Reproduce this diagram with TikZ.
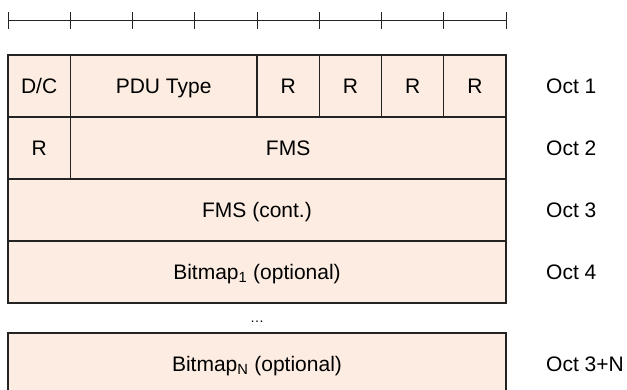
\documentclass[tikz,border=0pt]{standalone}
\usepackage{fontspec}
\setmainfont{Liberation Sans}
\usetikzlibrary{positioning,calc}
\definecolor{fieldfill}{RGB}{252,236,225}
\definecolor{fieldline}{RGB}{35,35,35}

\begin{document}
\begin{tikzpicture}[x=1pt,y=-1pt,
        font=\fontsize{21}{24}\selectfont,
        field/.style={draw=fieldline,fill=fieldfill,line width=1.3pt,
          rectangle,minimum height=62pt,inner sep=0pt,outer sep=0pt,
          text height=15pt,text depth=0pt},
        bit/.style={field,minimum width=62.25pt},
        octet/.style={field,minimum width=498pt},
        octlabel/.style={inner sep=0pt,text height=15pt,text depth=0pt}]

  \useasboundingbox (0,0) rectangle (627,390);

  \draw[fieldline,line width=0.9pt] (8,20) -- (506,20);
  \foreach \i in {0,...,8}
    \draw[fieldline,line width=0.9pt] ({8+62.25*\i},12) -- ({8+62.25*\i},29);

  \node[bit,anchor=north west] (dc) at (8,55) {D/C};
  \node[field,minimum width=186.75pt] (type) [right=0pt of dc] {PDU Type};
  \node[bit] (r_1) [right=0pt of type] {R};
  \node[bit] (r_2) [right=0pt of r_1] {R};
  \node[bit] (r_3) [right=0pt of r_2] {R};
  \node[bit] (r_4) [right=0pt of r_3] {R};

  \node[bit] (r_5) [below=0pt of dc] {R};
  \node[field,minimum width=435.75pt] (fms) [right=0pt of r_5] {FMS};

  \node[octet,anchor=north west] (fms_c) at (r_5.south west) {FMS (cont.)};
  \node[octet] (bmp_1) [below=0pt of fms_c] {Bitmap\textsubscript{1} (optional)};
  \node[octet] (bmp_n) [below=30pt of bmp_1] {Bitmap\textsubscript{N} (optional)};
  \node[font=\fontsize{14}{16}\selectfont,yshift=-4pt] (dots)
    at ($(bmp_1.south)!.5!(bmp_n.north)$) {\dots};

  \node[octlabel] (oct_1) [right=40pt of r_4] {Oct 1};
  \node[octlabel] (oct_2) [right=40pt of fms] {Oct 2};
  \node[octlabel] (oct_3) [right=40pt of fms_c] {Oct 3};
  \node[octlabel] (oct_4) [right=40pt of bmp_1] {Oct 4};
  \node[octlabel] (oct_n) [right=40pt of bmp_n] {Oct 3+N};

\end{tikzpicture}
\end{document}
